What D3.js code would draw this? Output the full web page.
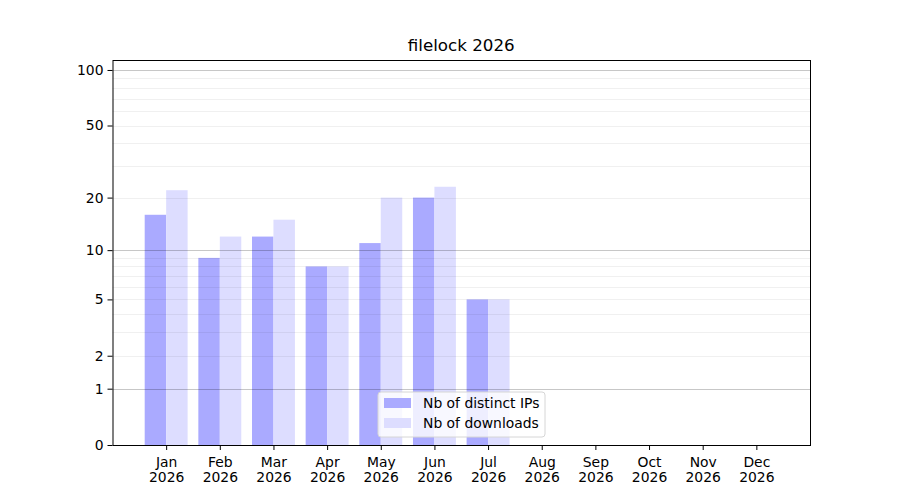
<!DOCTYPE html>
<html>
<head>
<meta charset="utf-8">
<script src="https://cdn.jsdelivr.net/npm/d3@7"></script>
<style>
  body { margin: 0; background: #fff; }
  text { font-family: "DejaVu Sans", sans-serif; fill: #000; }
</style>
</head>
<body>
<div id="chart"></div>
<script>
/* data */
const months = ["Jan", "Feb", "Mar", "Apr", "May", "Jun", "Jul", "Aug", "Sep", "Oct", "Nov", "Dec"];
const year = "2026";
const distinctIPs = [16, 9, 12, 8, 11, 20, 5, null, null, null, null, null];
const downloads = [22, 12, 15, 8, 20, 23, 5, null, null, null, null, null];
const yTicks = [0, 1, 2, 5, 10, 20, 50, 100];
const yMinor = [2, 3, 4, 5, 6, 7, 8, 9, 20, 30, 40, 50, 60, 70, 80, 90];
const yMajor = [1, 10, 100];

const W = 900, H = 500;
const margin = { top: 60, right: 90, bottom: 55, left: 112.5 };
const iw = W - margin.left - margin.right;
const ih = H - margin.top - margin.bottom;

/* Scale */
var xScale = d3.scaleLinear().domain([0, 13]).range([0, iw]);
var yScale = d3.scaleSymlog().constant(1).domain([0, 113.2]).range([ih, 0]);
const step = xScale(1) - xScale(0);
const bw = step * 0.4;

var svg = d3.select("#chart").append("svg")
  .attr("width", W).attr("height", H);

svg.append("text")
  .attr("x", margin.left + iw / 2)
  .attr("y", 51)
  .attr("text-anchor", "middle")
  .style("font-size", "16.7px")
  .text("filelock " + year);

var g = svg.append("g")
  .attr("transform", `translate(${margin.left}, ${margin.top})`);

/* bars */
const idx = months.map((m, i) => i);
g.append("g").selectAll("rect").data(idx.filter(i => distinctIPs[i] != null)).enter().append("rect")
  .attr("x", i => xScale(i + 1) - bw)
  .attr("width", bw)
  .attr("y", i => yScale(distinctIPs[i]))
  .attr("height", i => yScale(0) - yScale(distinctIPs[i]))
  .attr("fill", "#aaaaff");
g.append("g").selectAll("rect").data(idx.filter(i => downloads[i] != null)).enter().append("rect")
  .attr("x", i => xScale(i + 1))
  .attr("width", bw)
  .attr("y", i => yScale(downloads[i]))
  .attr("height", i => yScale(0) - yScale(downloads[i]))
  .attr("fill", "#ddddff");

/* grid, drawn over the bars */
g.append("g").selectAll("line").data(yMinor).enter().append("line")
  .attr("x1", 0).attr("x2", iw)
  .attr("y1", d => Math.round(yScale(d)) + 0.5).attr("y2", d => Math.round(yScale(d)) + 0.5)
  .attr("stroke", "#000").attr("stroke-opacity", 0.075).attr("stroke-width", 0.8);
g.append("g").selectAll("line").data(yMajor).enter().append("line")
  .attr("x1", 0).attr("x2", iw)
  .attr("y1", d => Math.round(yScale(d)) + 0.5).attr("y2", d => Math.round(yScale(d)) + 0.5)
  .attr("stroke", "#000").attr("stroke-opacity", 0.22).attr("stroke-width", 1);

/* axes */
var yAxis = d3.axisLeft(yScale).tickValues(yTicks).tickFormat(d3.format("d")).tickSize(5).tickPadding(4);
var ya = g.append("g").call(yAxis);
ya.selectAll("text").style("font-size", "13.9px");

var xAxis = d3.axisBottom(xScale).tickValues(d3.range(1, 13)).tickFormat(() => "").tickSize(5);
var xa = g.append("g").attr("transform", `translate(0, ${ih})`).call(xAxis);
xa.selectAll(".tick").each(function (d) {
  var t = d3.select(this).select("text");
  t.style("font-size", "13.9px").attr("y", 9).attr("dy", 0);
  t.append("tspan").attr("x", 0).attr("dy", "0.95em").text(months[d - 1]);
  t.append("tspan").attr("x", 0).attr("dy", "1.1em").text(year);
});
g.selectAll(".domain").remove();
g.selectAll(".tick line").attr("stroke", "#000").attr("stroke-width", 1);

g.append("rect")
  .attr("x", 0.5).attr("y", 0.5).attr("width", iw).attr("height", ih)
  .attr("fill", "none").attr("stroke", "#000").attr("stroke-width", 1);

/* legend */
const legendItems = [
  { label: "Nb of distinct IPs", color: "#aaaaff" },
  { label: "Nb of downloads", color: "#ddddff" }
];
var lg = svg.append("g").attr("transform", "translate(378, 392)");
lg.append("rect")
  .attr("width", 167).attr("height", 45).attr("rx", 3)
  .attr("fill", "#fff").attr("fill-opacity", 0.8)
  .attr("stroke", "#d6d6d6").attr("stroke-width", 1);
var li = lg.selectAll(".item").data(legendItems).enter().append("g")
  .attr("transform", (d, i) => `translate(6, ${6 + i * 20})`);
li.append("rect").attr("width", 27).attr("height", 10).attr("fill", d => d.color);
li.append("text").attr("x", 39).attr("y", 10)
  .style("font-size", "13.9px").text(d => d.label);
</script>
</body>
</html>
